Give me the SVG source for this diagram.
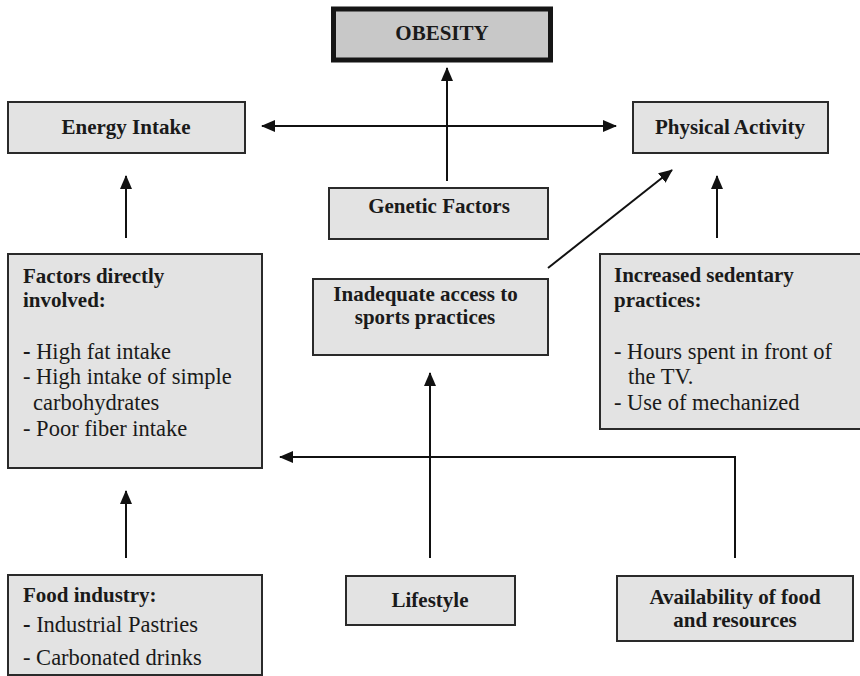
<svg xmlns="http://www.w3.org/2000/svg" width="860" height="676" viewBox="0 0 860 676">
<defs>
<style>
.box{fill:#e3e3e3;stroke:#2a2a2a;stroke-width:2}
.b{font-family:'Liberation Serif','Times New Roman',Tinos,'DejaVu Serif',serif;font-weight:bold;font-size:21px;fill:#1a1a1a}
.r{font-family:'Liberation Serif','Times New Roman',Tinos,'DejaVu Serif',serif;font-size:22.5px;fill:#1a1a1a}
.c{text-anchor:middle}
.ln{fill:none;stroke:#111;stroke-width:2}
</style>
<marker id="ah" markerUnits="userSpaceOnUse" markerWidth="14" markerHeight="12" refX="13" refY="6" orient="auto-start-reverse">
<path d="M0,0 L14,6 L0,12 z" fill="#111"/>
</marker>
</defs>
<rect width="860" height="676" fill="#fff"/>
<g id="connectors">
<line class="ln" x1="262" y1="126" x2="616" y2="126" marker-start="url(#ah)" marker-end="url(#ah)"/>
<line class="ln" x1="447" y1="181" x2="447" y2="68" marker-end="url(#ah)"/>
<line class="ln" x1="126" y1="238" x2="126" y2="176" marker-end="url(#ah)"/>
<line class="ln" x1="717" y1="238" x2="717" y2="176" marker-end="url(#ah)"/>
<line class="ln" x1="548" y1="268" x2="672" y2="170" marker-end="url(#ah)"/>
<line class="ln" x1="430" y1="558" x2="430" y2="373" marker-end="url(#ah)"/>
<polyline class="ln" points="735,558 735,457 280,457" marker-end="url(#ah)"/>
<line class="ln" x1="126" y1="558" x2="126" y2="491" marker-end="url(#ah)"/>
</g>
<g id="obesity">
<rect x="333.5" y="9" width="217" height="51" fill="#c8c8c8" stroke="#151515" stroke-width="5"/>
<text class="b c" x="442" y="40">OBESITY</text>
</g>
<g id="energy-intake">
<rect class="box" x="8" y="102" width="237" height="51"/>
<text class="b c" x="126" y="134">Energy Intake</text>
</g>
<g id="physical-activity">
<rect class="box" x="633" y="102" width="195" height="51"/>
<text class="b c" x="730" y="134">Physical Activity</text>
</g>
<g id="genetic-factors">
<rect class="box" x="329" y="188" width="219" height="51"/>
<text class="b c" x="439" y="213">Genetic Factors</text>
</g>
<g id="inadequate-access">
<rect class="box" x="313" y="279" width="235" height="76"/>
<text class="b c" x="425.5" y="301">Inadequate access to</text>
<text class="b c" x="425" y="324">sports practices</text>
</g>
<g id="factors-directly">
<rect class="box" x="8" y="254" width="254" height="214"/>
<text class="b" x="23" y="283">Factors directly</text>
<text class="b" x="23" y="307">involved:</text>
<text class="r" x="23" y="359"><tspan font-weight="bold">-</tspan> High fat intake</text>
<text class="r" x="23" y="384">- High intake of simple</text>
<text class="r" x="33" y="410">carbohydrates</text>
<text class="r" x="23" y="436">- Poor fiber intake</text>
</g>
<g id="sedentary">
<rect class="box" x="600" y="254" width="270" height="175"/>
<text class="b" x="614" y="282">Increased sedentary</text>
<text class="b" x="614" y="307">practices:</text>
<text class="r" x="614" y="359">- Hours spent in front of</text>
<text class="r" x="628" y="384">the TV.</text>
<text class="r" x="614" y="410">- Use of mechanized</text>
</g>
<g id="food-industry">
<rect class="box" x="8" y="575" width="254" height="100"/>
<text class="b" x="23" y="602">Food industry:</text>
<text class="r" x="23" y="632"><tspan font-weight="bold">-</tspan> Industrial Pastries</text>
<text class="r" x="23" y="665">- Carbonated drinks</text>
</g>
<g id="lifestyle">
<rect class="box" x="346" y="576" width="169" height="49"/>
<text class="b c" x="430" y="607">Lifestyle</text>
</g>
<g id="availability">
<rect class="box" x="617" y="576" width="236" height="65"/>
<text class="b c" x="735" y="604">Availability of food</text>
<text class="b c" x="735" y="627">and resources</text>
</g>
</svg>
